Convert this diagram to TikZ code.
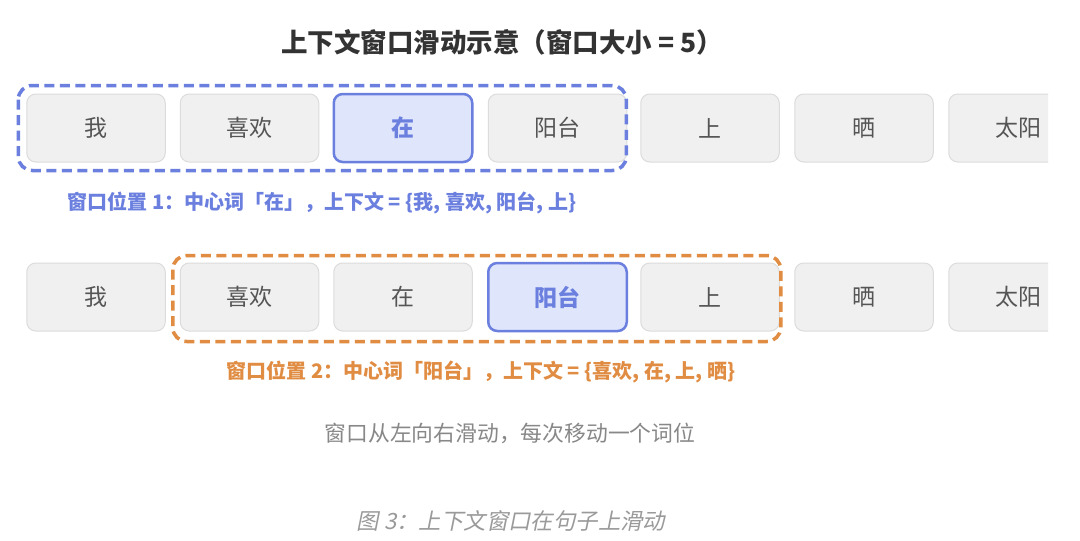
\documentclass[tikz,border=0pt]{standalone}
\usepackage{fontspec}
\setmainfont{Noto Sans CJK SC}
\newfontfamily\capfont[FakeSlant=0.2]{Noto Sans CJK SC}
\usetikzlibrary{calc}
\definecolor{boxfill}{HTML}{F0F0F0}
\definecolor{boxline}{HTML}{DCDCDC}
\definecolor{wtext}{HTML}{555555}
\definecolor{hlblue}{HTML}{6B7FDF}
\definecolor{hlfill}{HTML}{DFE5FB}
\definecolor{winorange}{HTML}{E08C42}
\definecolor{titlec}{HTML}{333333}
\definecolor{subc}{HTML}{888888}
\definecolor{capc}{HTML}{9A9A9A}
\tikzset{
  wordbox/.style={draw=boxline, line width=1pt, fill=boxfill, rounded corners=9pt,
    minimum width=138.5pt, minimum height=68pt, inner sep=0pt,
    text=wtext, font=\fontsize{23}{23}\selectfont},
  hlbox/.style={wordbox, draw=hlblue, line width=2.5pt, fill=hlfill,
    text=hlblue, font=\fontsize{23}{23}\selectfont\bfseries},
  winbox/.style={line width=3.5pt, dash pattern=on 10pt off 5.5pt, rounded corners=14pt},
  lbl/.style={font=\fontsize{20}{20}\selectfont\bfseries, inner sep=0pt}
}
\begin{document}
\begin{tikzpicture}[x=1pt,y=-1pt]
\useasboundingbox[fill=white] (0,0) rectangle (1080,541);
\node[font=\fontsize{26.5}{26.5}\selectfont\bfseries, text=titlec] (title) at (502,42) {上下文窗口滑动示意（窗口大小 = 5）};
\begin{scope}
\clip (0,0) rectangle (1048,541);
% row 1
\node[wordbox] (a1) at (96,128) {我};
\node[wordbox] (a2) at (249.5,128) {喜欢};
\node[hlbox]   (a3) at (403,128) {在};
\node[wordbox] (a4) at (557.5,128) {阳台};
\node[wordbox] (a5) at (710,128) {上};
\node[wordbox] (a6) at (864,128) {晒};
\node[wordbox] (a7) at (1018,128) {太阳};
% row 2
\node[wordbox] (b1) at (96,297) {我};
\node[wordbox] (b2) at (249.5,297) {喜欢};
\node[wordbox] (b3) at (403,297) {在};
\node[hlbox]   (b4) at (557.5,297) {阳台};
\node[wordbox] (b5) at (710,297) {上};
\node[wordbox] (b6) at (864,297) {晒};
\node[wordbox] (b7) at (1018,297) {太阳};
\end{scope}
% windows
\draw[winbox, draw=hlblue] ($(a1.north west)+(-8,-8)$) rectangle ($(a4.south east)+(-1,8)$);
\draw[winbox, draw=winorange] ($(b2.north west)+(-7,-7)$) rectangle ($(b5.south east)+(1,10)$);
% labels
\node[lbl, text=hlblue] (l1) at (322,203) {窗口位置 1：中心词「在」，上下文 = \{我, 喜欢, 阳台, 上\}};
\node[lbl, text=winorange] (l2) at (481,372) {窗口位置 2：中心词「阳台」，上下文 = \{喜欢, 在, 上, 晒\}};
\node[font=\fontsize{21.8}{21.8}\selectfont, text=subc] (sub) at (510,433) {窗口从左向右滑动，每次移动一个词位};
\node[font=\fontsize{22.4}{22.4}\selectfont\capfont, text=capc] (cap) at (511,521) {图 3：上下文窗口在句子上滑动};
\end{tikzpicture}
\end{document}
